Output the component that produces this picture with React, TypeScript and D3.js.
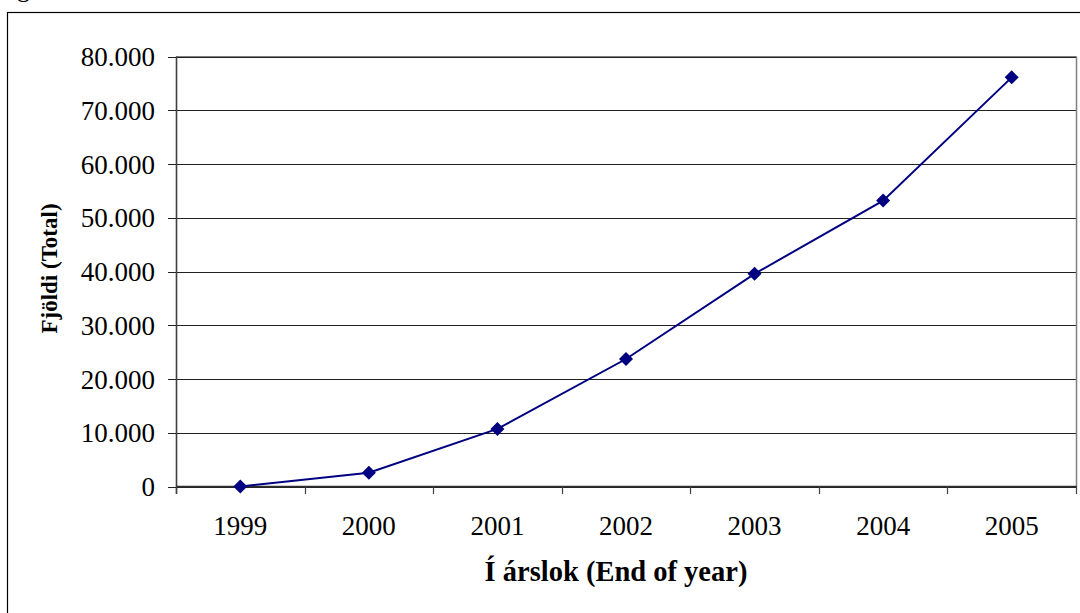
import React from 'react';
import * as d3 from 'd3';

const years = ['1999', '2000', '2001', '2002', '2003', '2004', '2005'];
const totals = [0, 2570, 10720, 23720, 39570, 53190, 76120];
const yTicks = [0, 10000, 20000, 30000, 40000, 50000, 60000, 70000, 80000];

const W = 1080;
const H = 613;
const FONT = '"Liberation Serif", "Times New Roman", serif';

const fmt = (v: number) => (v === 0 ? '0' : d3.format(',')(v).replace(/,/g, '.'));

const App: React.FC = () => {
  const x = d3.scaleBand<string>().domain(years).range([176, 1076]);
  const y = d3.scaleLinear().domain([0, 80000]).range([486.5, 56.5]);

  const line = d3
    .line<number>()
    .x((_, i) => x(years[i])! + x.bandwidth() / 2)
    .y((d) => y(d));

  const bounds = years.map((yr) => x(yr)!).concat([1076]);

  return (
    <svg
      width={W}
      height={H}
      style={{ position: 'absolute', left: 0, top: 0, background: '#fff' }}
      fontFamily={FONT}
    >
      <rect x={0} y={0} width={W} height={H} fill="#fff" />
      {/* clipped caption descender above frame */}
      <text x={17} y={-3} fontSize={26} fill="#000">g</text>
      <rect x={7.5} y={12.5} width={W + 20} height={H + 20} fill="none" stroke="#000" strokeWidth={1.2} />

      {/* grid lines */}
      {yTicks.map((t) => (
        <line key={t} x1={176} x2={1076} y1={Math.round(y(t)) + 0.5} y2={Math.round(y(t)) + 0.5} stroke="#222" strokeWidth={1} />
      ))}
      {/* plot area border */}
      <line x1={1076.5} x2={1076.5} y1={56.5} y2={487} stroke="#808080" strokeWidth={1.5} />
      <line x1={176} x2={1076.5} y1={56.5} y2={56.5} stroke="#808080" strokeWidth={1.2} />

      {/* y axis */}
      <line x1={176.5} x2={176.5} y1={56.5} y2={494} stroke="#404040" strokeWidth={1.6} />
      {yTicks.map((t) => (
        <g key={t}>
          <line x1={168} x2={176} y1={Math.round(y(t)) + 0.5} y2={Math.round(y(t)) + 0.5} stroke="#222" strokeWidth={1} />
          <text x={155} y={y(t) + 9.5} textAnchor="end" fontSize={27} fill="#000">
            {fmt(t)}
          </text>
        </g>
      ))}

      {/* x axis */}
      <line x1={176} x2={1076.5} y1={486.5} y2={486.5} stroke="#303030" strokeWidth={1.4} />
      {bounds.map((b, i) => (
        <line key={i} x1={Math.round(b) + 0.5} x2={Math.round(b) + 0.5} y1={486.5} y2={494} stroke="#404040" strokeWidth={1.2} />
      ))}
      {years.map((yr) => (
        <text key={yr} x={x(yr)! + x.bandwidth() / 2} y={535} textAnchor="middle" fontSize={27} fill="#000">
          {yr}
        </text>
      ))}

      {/* series */}
      <path d={line(totals)!} fill="none" stroke="#000080" strokeWidth={2} />
      {totals.map((v, i) => {
        const cx = x(years[i])! + x.bandwidth() / 2;
        const cy = y(v);
        return (
          <path
            key={i}
            d={`M${cx},${cy - 7}L${cx + 7},${cy}L${cx},${cy + 7}L${cx - 7},${cy}Z`}
            fill="#000080"
          />
        );
      })}

      {/* axis titles */}
      <text x={616} y={581} textAnchor="middle" fontSize={28.5} fontWeight="bold" fill="#000">
        Í árslok (End of year)
      </text>
      <text
        transform={`translate(57,${(y(0) + y(80000)) / 2 - 3}) rotate(-90)`}
        textAnchor="middle"
        fontSize={23}
        fontWeight="bold"
        fill="#000"
      >
        Fjöldi (Total)
      </text>
    </svg>
  );
};

export default App;
